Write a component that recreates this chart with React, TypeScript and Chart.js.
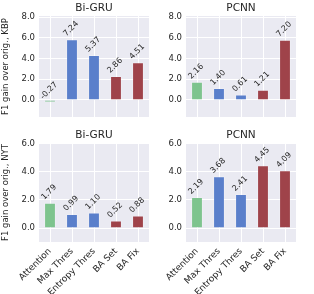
import React, { useEffect, useRef } from "react";
import { Chart, registerables } from "chart.js";

Chart.register(...registerables);

const categories = ["Attention", "Max Thres", "Entropy Thres", "BA Set", "BA Fix"];

// KBP: printed labels and drawn bar heights
const kbpBiGruLabels = ["-0.27", "7.24", "5.37", "2.86", "4.51"];
const kbpBiGruBars = [-0.22, 5.85, 4.33, 2.3, 3.63];
const kbpPcnnLabels = ["2.16", "1.40", "0.61", "1.21", "7.20"];
const kbpPcnnBars = [1.74, 1.13, 0.5, 0.98, 5.8];

// NYT
const nytBiGruBars = [1.79, 0.99, 1.1, 0.52, 0.88];
const nytBiGruLabels = ["1.79", "0.99", "1.10", "0.52", "0.88"];
const nytPcnnBars = [2.19, 3.68, 2.41, 4.45, 4.09];
const nytPcnnLabels = ["2.19", "3.68", "2.41", "4.45", "4.09"];

const topTicks = [0, 2, 4, 6, 8];
const bottomTicks = [0, 2, 4, 6];

const barColors = ["#7ec48e", "#5a7fcb", "#5a7fcb", "#9f434a", "#9f434a"];
const FONT = "'DejaVu Sans', sans-serif";
const TEXT = "#262626";
const VAL_SIZE = 8;

type PanelCfg = {
  title: string;
  bars: number[];
  labels: string[];
  ticks: number[];
  min: number;
  max: number;
  yTitle: string | null;
  showX: boolean;
  yWidth: number;
  xHeight: number;
  padding: { left: number; right: number; top: number; bottom: number };
};

const panelPlugin = {
  id: "panelDecor",
  beforeDraw(chart: any) {
    const { ctx, chartArea } = chart;
    ctx.save();
    ctx.fillStyle = "#eaeaf2";
    ctx.fillRect(chartArea.left, chartArea.top, chartArea.right - chartArea.left, chartArea.bottom - chartArea.top);
    ctx.restore();
  },
  afterDatasetsDraw(chart: any) {
    const { ctx, chartArea } = chart;
    const opts = chart.options.plugins.panelDecor;
    const meta = chart.getDatasetMeta(0);
    ctx.save();
    ctx.font = `${VAL_SIZE}px ${FONT}`;
    ctx.fillStyle = TEXT;
    meta.data.forEach((el: any, i: number) => {
      const txt = opts.labels[i];
      const w = ctx.measureText(txt).width;
      const h = VAL_SIZE * 0.8;
      const half = (w + h) / (2 * Math.SQRT2);
      const cx = el.x - 1;
      const cy = el.y - 2 - half;
      ctx.save();
      ctx.translate(cx, cy);
      ctx.rotate(-Math.PI / 4);
      ctx.textAlign = "center";
      ctx.textBaseline = "middle";
      ctx.fillText(txt, 0, 0);
      ctx.restore();
    });
    ctx.font = `10.5px ${FONT}`;
    ctx.textAlign = "center";
    ctx.textBaseline = "middle";
    ctx.fillText(opts.title, (chartArea.left + chartArea.right) / 2, chartArea.top - 8);
    ctx.restore();
  },
};

function Panel({ cfg, style }: { cfg: PanelCfg; style: React.CSSProperties }) {
  const ref = useRef<HTMLCanvasElement | null>(null);
  useEffect(() => {
    if (!ref.current) return;
    const chart = new Chart(ref.current, {
      type: "bar",
      data: {
        labels: categories,
        datasets: [
          {
            data: cfg.bars,
            backgroundColor: barColors,
            borderColor: "rgba(255,255,255,0.3)",
            borderWidth: 0.8,
            barPercentage: 0.52,
            categoryPercentage: 1,
          },
        ],
      },
      options: {
        animation: false,
        responsive: false,
        maintainAspectRatio: false,
        layout: { padding: cfg.padding },
        plugins: {
          legend: { display: false },
          tooltip: { enabled: false },
          title: { display: false },
          panelDecor: { labels: cfg.labels, title: cfg.title },
        } as any,
        scales: {
          x: {
            offset: true,
            grid: { color: "#ffffff", lineWidth: 1, offset: false, drawTicks: false },
            border: { display: false },
            ticks: {
              display: cfg.showX,
              maxRotation: 45,
              minRotation: 45,
              padding: 4,
              color: TEXT,
              font: { family: FONT, size: 9 },
            },
            afterFit: (scale: any) => {
              scale.height = cfg.xHeight;
            },
          },
          y: {
            min: cfg.min,
            max: cfg.max,
            grid: { color: "#ffffff", lineWidth: 1, drawTicks: false },
            border: { display: false },
            afterBuildTicks: (scale: any) => {
              scale.ticks = cfg.ticks.map((v) => ({ value: v }));
            },
            ticks: {
              padding: 4,
              color: TEXT,
              font: { family: FONT, size: 8.5 },
              callback: (v: any) => Number(v).toFixed(1),
            },
            title: {
              display: !!cfg.yTitle,
              text: cfg.yTitle || "",
              color: TEXT,
              font: { family: FONT, size: 8.5 },
              padding: { top: 1, bottom: 0 },
            },
            afterFit: (scale: any) => {
              scale.width = cfg.yWidth;
            },
          },
        },
      },
      plugins: [panelPlugin],
    } as any);
    return () => chart.destroy();
  }, [cfg]);
  const w = style.width as number;
  const h = style.height as number;
  return (
    <div style={{ position: "absolute", ...style }}>
      <canvas ref={ref} width={w} height={h} style={{ width: w, height: h, display: "block" }} />
    </div>
  );
}

const panels: { cfg: PanelCfg; style: React.CSSProperties }[] = [
  {
    cfg: {
      title: "Bi-GRU",
      bars: kbpBiGruBars,
      labels: kbpBiGruLabels,
      ticks: topTicks,
      min: -1.64,
      max: 8.1,
      yTitle: "F1 gain over orig., KBP",
      showX: false,
      yWidth: 39,
      xHeight: 0,
      padding: { left: 0, right: 8, top: 16, bottom: 13 },
    },
    style: { left: 0, top: 0, width: 157, height: 130 },
  },
  {
    cfg: {
      title: "PCNN",
      bars: kbpPcnnBars,
      labels: kbpPcnnLabels,
      ticks: topTicks,
      min: -1.64,
      max: 8.1,
      yTitle: null,
      showX: false,
      yWidth: 29,
      xHeight: 0,
      padding: { left: 0, right: 18, top: 16, bottom: 13 },
    },
    style: { left: 157, top: 0, width: 157, height: 130 },
  },
  {
    cfg: {
      title: "Bi-GRU",
      bars: nytBiGruBars,
      labels: nytBiGruLabels,
      ticks: bottomTicks,
      min: -0.99,
      max: 6.05,
      yTitle: "F1 gain over orig., NYT",
      showX: true,
      yWidth: 39,
      xHeight: 52,
      padding: { left: 0, right: 8, top: 13, bottom: 0 },
    },
    style: { left: 0, top: 130, width: 157, height: 164 },
  },
  {
    cfg: {
      title: "PCNN",
      bars: nytPcnnBars,
      labels: nytPcnnLabels,
      ticks: bottomTicks,
      min: -0.99,
      max: 6.05,
      yTitle: null,
      showX: true,
      yWidth: 29,
      xHeight: 52,
      padding: { left: 0, right: 18, top: 13, bottom: 0 },
    },
    style: { left: 157, top: 130, width: 157, height: 164 },
  },
];

export default function App() {
  return (
    <div style={{ position: "absolute", left: 0, top: 0, width: 314, height: 294, background: "#ffffff" }}>
      {panels.map((p, i) => (
        <Panel key={i} cfg={p.cfg} style={p.style} />
      ))}
    </div>
  );
}
